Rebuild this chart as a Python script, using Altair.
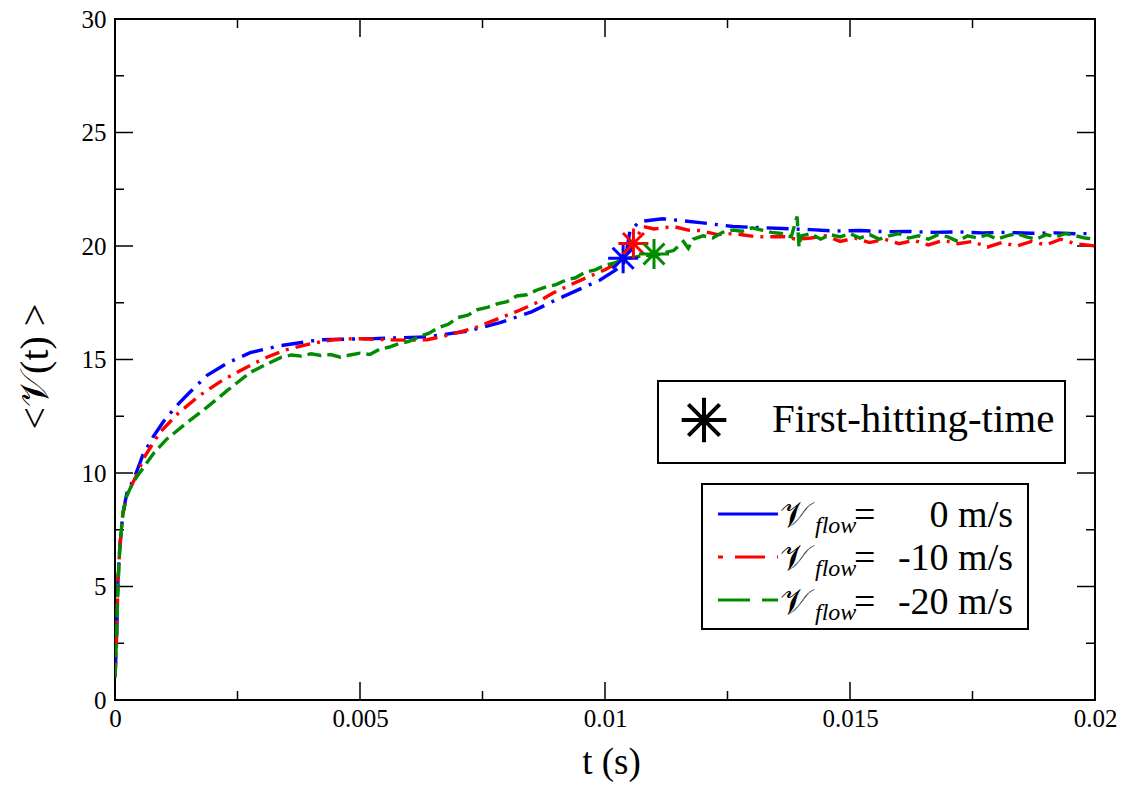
import altair as alt
import pandas as pd

# ---------------- data ----------------
series_names = ["0 m/s", "-10 m/s", "-20 m/s"]
series_colors = ["#0000ff", "#ff0000", "#008b00"]

blue_t = [0, 0.00003, 0.00006, 0.0001, 0.00016, 0.00024, 0.00035, 0.00045, 0.00057, 0.00078,
          0.001, 0.00127, 0.0015, 0.00188, 0.0023, 0.00276, 0.00337, 0.00418, 0.00527, 0.00637,
          0.0072, 0.00786, 0.0085, 0.00908, 0.0099, 0.01037, 0.01045, 0.01051, 0.01071, 0.01118,
          0.01194, 0.01261, 0.01363, 0.0142, 0.0147, 0.0152, 0.0157, 0.0162, 0.0167, 0.0172,
          0.0177, 0.0182, 0.0187, 0.0192, 0.0196, 0.02]
blue_v = [1.0, 2.5, 5.3, 6.8, 8.2, 9.1, 9.6, 10.1, 10.8, 11.6,
          12.3, 12.99, 13.5, 14.3, 14.85, 15.3, 15.61, 15.87, 15.92, 16.0,
          16.25, 16.62, 17.1, 17.71, 18.5, 19.15, 19.9, 20.68, 21.08, 21.2,
          21.03, 20.86, 20.77, 20.72, 20.66, 20.68, 20.63, 20.64, 20.6, 20.62,
          20.58, 20.6, 20.56, 20.58, 20.54, 20.55]

red_t = [0, 0.00003, 0.00006, 0.0001, 0.00016, 0.00024, 0.00035, 0.00045, 0.0006, 0.00092,
         0.0013, 0.00173, 0.0022, 0.00276, 0.0031, 0.00351, 0.004, 0.00445, 0.00486, 0.0052,
         0.00555, 0.006, 0.00637, 0.00684, 0.00735, 0.00786, 0.00827, 0.0086, 0.00894, 0.0093,
         0.00969, 0.01, 0.01024, 0.0104, 0.01057, 0.01078, 0.011, 0.01139, 0.0117, 0.01194,
         0.0123, 0.01261, 0.0131, 0.01363, 0.0139, 0.0142, 0.0145, 0.0148, 0.0151, 0.0154,
         0.0157, 0.016, 0.0163, 0.0166, 0.0169, 0.0172, 0.0175, 0.0178, 0.0181, 0.0184,
         0.0187, 0.019, 0.0193, 0.0196, 0.02]
red_v = [1.0, 2.6, 5.2, 6.8, 8.2, 9.0, 9.5, 9.95, 10.7, 11.8,
         12.65, 13.42, 14.1, 14.74, 15.1, 15.44, 15.7, 15.87, 15.92, 15.9,
         15.87, 15.85, 15.87, 16.09, 16.4, 16.83, 17.18, 17.5, 17.93, 18.3,
         18.67, 18.95, 19.24, 19.6, 20.11, 20.86, 20.75, 20.86, 20.7, 20.68,
         20.5, 20.55, 20.4, 20.42, 20.3, 20.35, 20.45, 20.2, 20.35, 20.15,
         20.3, 20.1, 20.25, 20.05, 20.25, 20.1, 20.2, 19.95, 20.15, 20.0,
         20.2, 20.05, 20.3, 20.1, 20.0]

green_t = [0, 0.00003, 0.00006, 0.0001, 0.00016, 0.00024, 0.00035, 0.00045, 0.0006, 0.0008,
           0.00106, 0.0014, 0.00188, 0.0023, 0.00276, 0.0031, 0.0034, 0.0036, 0.0038, 0.004,
           0.0042, 0.0044, 0.0046, 0.0048, 0.005, 0.0052, 0.0054, 0.0056, 0.0058, 0.006,
           0.0062, 0.0064, 0.0066, 0.0068, 0.007, 0.0072, 0.0074, 0.0076, 0.0078, 0.008,
           0.0082, 0.0084, 0.0086, 0.0088, 0.009, 0.0092, 0.0094, 0.0096, 0.0098, 0.01,
           0.0102, 0.0104, 0.0106, 0.0108, 0.011, 0.0112, 0.0114, 0.0116, 0.0117, 0.0118,
           0.012, 0.0122, 0.0124, 0.0126, 0.0128, 0.013, 0.0132, 0.0134, 0.0136, 0.0138,
           0.01392, 0.01396, 0.014, 0.0142, 0.0144, 0.0146, 0.0148, 0.015, 0.0152, 0.0154,
           0.0156, 0.0158, 0.016, 0.0162, 0.0164, 0.0166, 0.0168, 0.017, 0.0172, 0.0174,
           0.0176, 0.0178, 0.018, 0.0182, 0.0184, 0.0186, 0.0188, 0.019, 0.0192, 0.0194,
           0.0196, 0.0198, 0.02]
green_v = [1.0, 2.8, 5.0, 6.8, 8.2, 9.0, 9.5, 9.85, 10.3, 10.9,
           11.5, 12.1, 12.9, 13.65, 14.43, 14.8, 15.1, 15.2, 15.15, 15.25,
           15.18, 15.22, 15.1, 15.2, 15.28, 15.22, 15.45, 15.55, 15.7, 15.8,
           16.0, 16.15, 16.4, 16.55, 16.85, 16.95, 17.2, 17.3, 17.45, 17.55,
           17.8, 17.85, 18.05, 18.2, 18.3, 18.5, 18.6, 18.85, 18.95, 19.15,
           19.25, 19.45, 19.5, 19.6, 19.55, 19.7, 19.8, 20.2, 19.9, 20.3,
           20.45, 20.35, 20.6, 20.7, 20.65, 20.8, 20.7, 20.6, 20.55, 20.4,
           21.3, 19.95, 20.45, 20.55, 20.3, 20.5, 20.4, 20.55, 20.35, 20.5,
           20.3, 20.45, 20.55, 20.35, 20.45, 20.3, 20.5, 20.4, 20.2, 20.45,
           20.35, 20.5, 20.3, 20.45, 20.55, 20.4, 20.3, 20.5, 20.4, 20.55,
           20.45, 20.35, 20.3]

star_t = [0.01037, 0.01058, 0.0110]
star_v = [19.46, 20.11, 19.65]

x_major = [0, 0.005, 0.01, 0.015, 0.02]
x_minor = [0.0025, 0.0075, 0.0125, 0.0175]
y_major = [0, 5, 10, 15, 20, 25, 30]
y_minor = [2.5, 7.5, 12.5, 17.5, 22.5, 27.5]

legend_star_label = "First-hitting-time"
legend_symbol = "\U0001D4B1"  # script V
legend_sub = "flow"
x_title = "t (s)"
y_title = "<" + legend_symbol + "(t) >"

# ---------------- chart ----------------
W, H = 980, 681
FONT = "Liberation Serif"
ASTERISK = "M-1,0L1,0M0,-1L0,1M-0.7,-0.7L0.7,0.7M-0.7,0.7L0.7,-0.7"
xs = alt.Scale(domain=[0, 0.02], nice=False, zero=False)
ys = alt.Scale(domain=[0, 30], nice=False, zero=False)

one = pd.DataFrame({"k": [0]})

x_axis = alt.Axis(values=x_major, format="~g", title=x_title, labelFont=FONT, titleFont=FONT,
                  labelFontSize=25, titleFontSize=37)
y_axis = alt.Axis(values=y_major, format="d", title=y_title, labelFont=FONT, titleFont=FONT,
                  labelFontSize=25, titleFontSize=40)


def X(field="t"):
    return alt.X(field + ":Q", scale=xs, axis=x_axis)


def Y(field="v"):
    return alt.Y(field + ":Q", scale=ys, axis=y_axis)


ymaj = pd.DataFrame({"v": y_major})
ymin = pd.DataFrame({"v": y_minor})
xmaj = pd.DataFrame({"t": x_major})
xmin = pd.DataFrame({"t": x_minor})

layers = []
# inward ticks on all four sides
for df, L in [(ymaj, 18), (ymin, 9)]:
    layers.append(alt.Chart(df).mark_rule(color="black", strokeWidth=1.5).encode(
        y=Y(), x=alt.value(0), x2=alt.value(L)))
    layers.append(alt.Chart(df).mark_rule(color="black", strokeWidth=1.5).encode(
        y=Y(), x=alt.value(W), x2=alt.value(W - L)))
for df, L in [(xmaj, 18), (xmin, 9)]:
    layers.append(alt.Chart(df).mark_rule(color="black", strokeWidth=1.5).encode(
        x=X(), y=alt.value(H), y2=alt.value(H - L)))
    layers.append(alt.Chart(df).mark_rule(color="black", strokeWidth=1.5).encode(
        x=X(), y=alt.value(0), y2=alt.value(L)))


def line_layer(t, v, color, dash):
    df = pd.DataFrame({"t": t, "v": v, "i": list(range(len(t)))})
    return alt.Chart(df).mark_line(color=color, strokeDash=dash, strokeWidth=3.4, clip=True).encode(
        x=X(), y=Y(), order="i:Q")


layers.append(line_layer(blue_t, blue_v, series_colors[0], [22, 8, 3, 8]))
layers.append(line_layer(red_t, red_v, series_colors[1], [15, 7, 3, 7]))
layers.append(line_layer(green_t, green_v, series_colors[2], [14, 6]))

stars = pd.DataFrame({"t": star_t, "v": star_v, "s": series_names})
layers.append(alt.Chart(stars).mark_point(shape=ASTERISK, filled=False, size=900, strokeWidth=3,
                                          opacity=1).encode(
    x=X(), y=Y(),
    color=alt.Color("s:N", scale=alt.Scale(domain=series_names, range=series_colors), legend=None)))

# ---------------- manual legends ----------------
def box(x1, x2, y1, y2):
    return alt.Chart(one).mark_rect(fill="white", stroke="black", strokeWidth=2).encode(
        x=alt.value(x1), x2=alt.value(x2), y=alt.value(y1), y2=alt.value(y2))


def txt(s, x, y, size, align="left", style="normal"):
    return alt.Chart(one).mark_text(text=s, font=FONT, fontSize=size, align=align,
                                    baseline="alphabetic", fontStyle=style, color="black").encode(
        x=alt.value(x), y=alt.value(y))


OY = -5  # legend offset relative to plot top
layers.append(box(543, 950, 367 + OY, 449 + OY))
layers.append(alt.Chart(one).mark_point(shape=ASTERISK, filled=False, size=2000, strokeWidth=4,
                                        color="black", opacity=1).encode(
    x=alt.value(589), y=alt.value(406 + OY)))
layers.append(txt(legend_star_label, 657, 418 + OY, 41))

layers.append(box(587, 913, 470 + OY, 615 + OY))
row_y = [500, 543, 586]
row_base = [513, 556, 600]
leg_dash = [[1, 0], [5, 12, 30, 12], [32, 12]]
for i in range(3):
    layers.append(alt.Chart(one).mark_rule(color=series_colors[i], strokeWidth=3,
                                           strokeDash=leg_dash[i]).encode(
        x=alt.value(603), x2=alt.value(663), y=alt.value(row_y[i] + OY)))
    layers.append(txt(legend_symbol, 665, row_base[i] + OY, 36))
    layers.append(txt(legend_sub, 700, row_base[i] + OY + 6, 24, style="italic"))
    layers.append(txt("=", 739, row_base[i] + OY, 38))
    layers.append(txt(series_names[i], 898, row_base[i] + OY, 38, align="right"))

chart = alt.layer(*layers).properties(
    width=W, height=H,
    autosize=alt.AutoSizeParams(type="none"),
    padding={"left": 107, "top": 11, "right": 24, "bottom": 88},
    background="white",
).configure(
    font=FONT
).configure_view(
    stroke="black", strokeWidth=2
).configure_axis(
    ticks=False, tickSize=0, domain=False, grid=False,
    labelFont=FONT, labelFontSize=25, labelColor="black",
    labelFlush=False, labelOverlap=False,
    titleFont=FONT, titleFontWeight="normal", titleColor="black",
).configure_axisX(
    labelPadding=6, titleFontSize=37, titleX=W / 2 + 6, titleY=62, titleBaseline="middle",
).configure_axisY(
    labelPadding=9, titleFontSize=40, titleAngle=-90, titleX=-80, titleY=347,
    titleBaseline="middle", titleAlign="center",
)

chart.save("out.html", embed_options={"renderer": "svg", "actions": False})
